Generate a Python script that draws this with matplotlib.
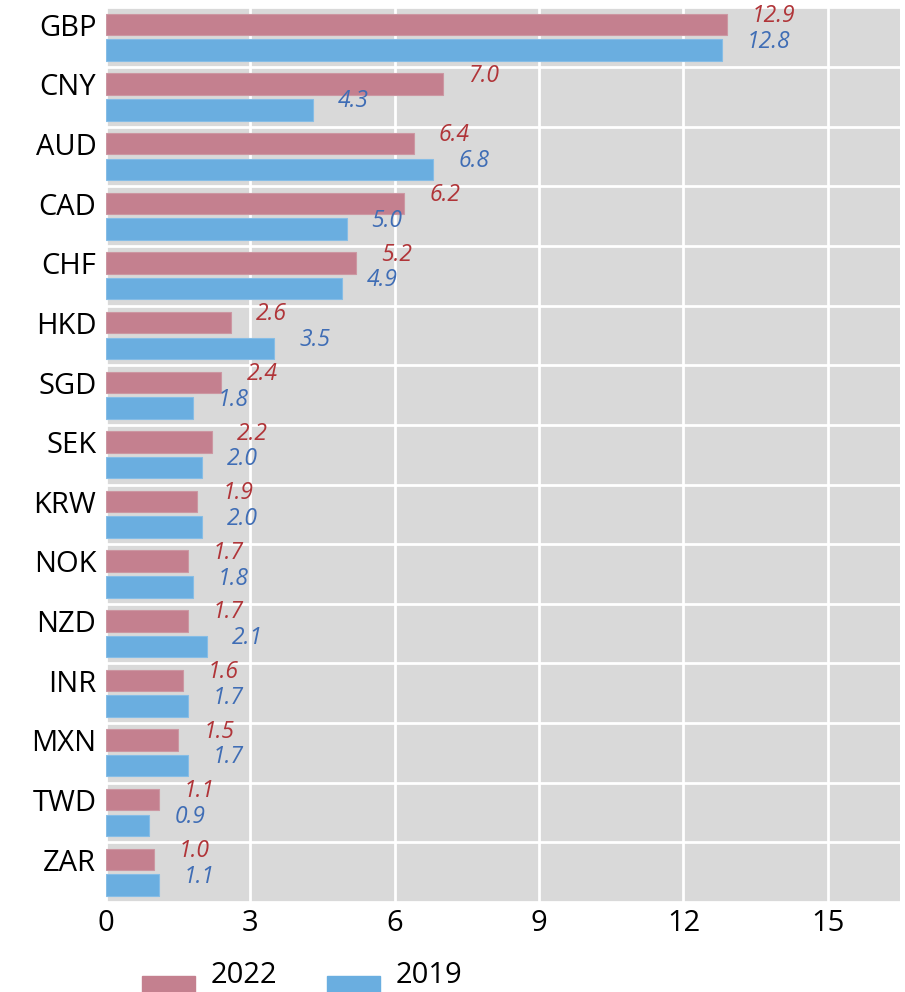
import matplotlib.pyplot as plt
import matplotlib.patches as mpatches
from matplotlib.legend_handler import HandlerPatch
import numpy as np

plt.rcParams['font.family'] = ['Open Sans', 'DejaVu Sans']

currencies = ['GBP', 'CNY', 'AUD', 'CAD', 'CHF', 'HKD', 'SGD', 'SEK',
              'KRW', 'NOK', 'NZD', 'INR', 'MXN', 'TWD', 'ZAR']
share_2022 = [12.9, 7.0, 6.4, 6.2, 5.2, 2.6, 2.4, 2.2, 1.9, 1.7, 1.7, 1.6, 1.5, 1.1, 1.0]
share_2019 = [12.8, 4.3, 6.8, 5.0, 4.9, 3.5, 1.8, 2.0, 2.0, 1.8, 2.1, 1.7, 1.7, 0.9, 1.1]

c22, c19 = '#C4808F', '#6AAEE0'
t22, t19 = '#B03438', '#3F6DB5'

fig = plt.figure(figsize=(9.05, 9.92), dpi=100)
ax = fig.add_axes([106/905, 1-902/992, 794/905, (902-7.5)/992])
ax.set_facecolor('#D9D9D9')

y = np.arange(len(currencies))
h = 0.36
off = 0.215
ax.barh(y - off, share_2022, height=h, color=c22, edgecolor='#CC97A2', linewidth=0.8, zorder=2)
ax.barh(y + off, share_2019, height=h, color=c19, edgecolor='#86BDE6', linewidth=0.8, zorder=2)

# value labels, italic, a bit right of and above the bar ends
for yi, v in zip(y, share_2022):
    ax.annotate(f'{v:.1f}', (v, yi - off), xytext=(18, 6), textcoords='offset points',
                ha='left', va='center', fontsize=16.5, style='italic', color=t22,
                annotation_clip=False, zorder=3)
for yi, v in zip(y, share_2019):
    ax.annotate(f'{v:.1f}', (v, yi + off), xytext=(18, 6), textcoords='offset points',
                ha='left', va='center', fontsize=16.5, style='italic', color=t19,
                annotation_clip=False, zorder=3)

ax.set_xlim(0, 16.5)
ax.set_ylim(len(currencies) - 0.5, -0.5)
ax.set_xticks([0, 3, 6, 9, 12, 15])
# category names sit a little above the group centre, as in the original
ax.set_yticks(y - 0.21)
ax.set_yticklabels(currencies)
ax.set_yticks(np.arange(-0.5, len(currencies), 1), minor=True)
ax.tick_params(axis='both', which='both', length=0, labelsize=21)
ax.tick_params(axis='y', pad=7)
ax.tick_params(axis='x', pad=5)
ax.grid(axis='x', which='major', color='white', linewidth=2, zorder=1)
ax.grid(axis='y', which='minor', color='white', linewidth=2, zorder=1)
ax.set_axisbelow(True)
for s in ax.spines.values():
    s.set_visible(False)


def low_patch(legend, orig_handle, xdescent, ydescent, width, height, fontsize):
    return mpatches.Rectangle((-xdescent, -ydescent - height * 0.75), width, height * 1.1)


handles = [mpatches.Patch(color=c22, label='2022'), mpatches.Patch(color=c19, label='2019')]
fig.legend(handles=handles, loc='center left', bbox_to_anchor=(116/905, 1-975/992),
           ncol=2, frameon=False, fontsize=21, handlelength=1.8, handleheight=0.9,
           handletextpad=0.55, columnspacing=1.7,
           handler_map={mpatches.Patch: HandlerPatch(patch_func=low_patch)})

fig.savefig('out.png', dpi=100)
